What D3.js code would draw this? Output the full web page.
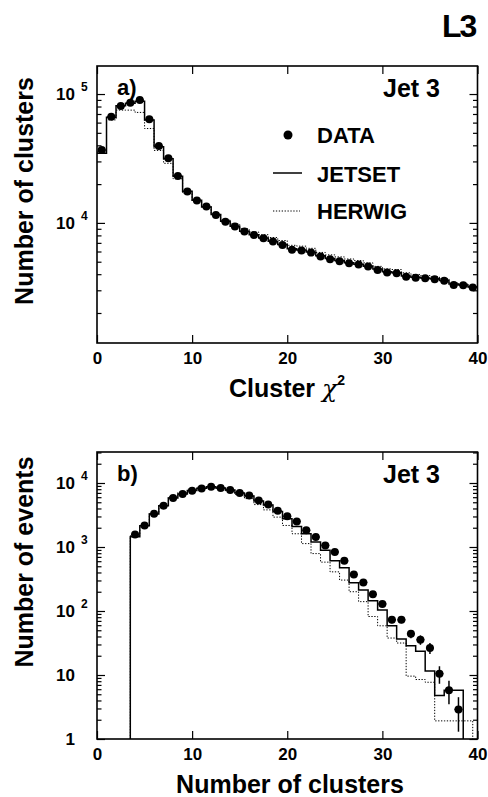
<!DOCTYPE html>
<html><head><meta charset="utf-8">
<script src="https://cdn.jsdelivr.net/npm/d3@7/dist/d3.min.js"></script>
<style>
body{margin:0;background:#fff}
svg{display:block}
text{font-family:"Liberation Sans",Arial,Helvetica,sans-serif;font-weight:bold;fill:#000}
</style>
</head><body>
<svg id="c" width="488" height="797"></svg>
<script>
// ---------- Panel a) : Cluster chi^2 (bin lower edges) ----------
const aBins = [0,1,2,3,4,5,6,7,8,9,10,11,12,13,14,15,16,17,18,19,20,21,22,23,24,25,26,27,28,29,30,31,32,33,34,35,36,37,38,39];
const aData = [36800,66700,80700,85700,89800,63700,39500,31700,23100,17500,14900,13400,11500,10200,9360,8560,8070,7600,7160,6750,6180,6100,5890,5480,5230,5040,4870,4750,4580,4320,4120,4070,3830,3760,3720,3660,3550,3300,3290,3150];
const aJetset = [34700,66000,81000,85000,88000,63000,39000,31500,23000,17600,15000,13300,11600,10300,9400,8600,8100,7650,7200,6800,6300,6150,5950,5550,5300,5100,4900,4780,4600,4380,4180,4100,3870,3790,3740,3680,3580,3350,3300,3180];
const aHerwig = [35500,63000,75000,75000,72000,54000,36500,29000,22000,17000,14700,13400,11700,10500,9800,9000,8500,8100,7700,7300,6700,6600,6350,5900,5650,5450,5250,5100,4900,4600,4400,4350,4100,3980,3900,3820,3700,3420,3350,3200];
const aYTicks = [1e4,1e5];
const aYLabels = [["10","4"],["10","5"]];

// ---------- Panel b) : Number of clusters (bin centres) ----------
const bBins = [4,5,6,7,8,9,10,11,12,13,14,15,16,17,18,19,20,21,22,23,24,25,26,27,28,29,30,31,32,33,34,35,36,37,38,39];
const bData = [1570,2170,3300,4430,5850,6740,7590,8240,8770,8360,7780,7000,6360,5310,4600,3670,3030,2510,1820,1430,1060,836,607,372,280,182,129,72.8,72.8,44,35.6,26.4,10.5,5.8,2.9];
const bErr  = [40,47,57,67,76,82,87,91,94,91,88,84,80,73,68,61,55,50,43,38,33,29,25,19,17,13,11,8.5,8.5,6.6,6,5.1,3.2,2.3,1.6];
const bJetset = [1450,2150,3280,4420,5830,6760,7600,8250,8750,8350,7750,6950,6250,5250,4550,3580,2760,2090,1610,1200,889,607,472,276,213,145,104,58.7,36.5,28.7,23.4,11.5,4.8,5.8,5.8];
const bHerwig = [1500,2150,3350,4600,6100,7100,8000,8600,8800,8300,7550,6600,5700,4600,3800,2930,2170,1610,1130,789,580,409,304,200,140,82,58.7,37.8,31.6,9.6,8.5,7.7,1.92,1.92,1.92,1.92];
const bYTicks = [1,10,100,1000,10000];
const bYLabels = [["1",""],["10",""],["10","2"],["10","3"],["10","4"]];

const xTicks = [0,10,20,30,40];
const legendNames = ["DATA","JETSET","HERWIG"];

const svg = d3.select("#c");
const X0 = 97, X1 = 477.5;

function minorTicks(lo, hi){
  const out=[];
  for(let d=Math.pow(10,Math.floor(Math.log10(lo))); d<hi; d*=10){
    for(let k=2;k<=9;k++){const v=k*d; if(v>lo && v<hi) out.push(v);}
  }
  return out;
}

function panel(o){
  const x = d3.scaleLinear().domain([0,40]).range([X0,X1]);
  const y = d3.scaleLog().domain(o.domain).range([o.bot,o.top]);
  const g = svg.append("g");
  const minors = minorTicks(o.domain[0], o.domain[1]);
  const styleAxis = sel => { sel.select(".domain").remove(); sel.selectAll("line").attr("stroke","#000").attr("stroke-width",1.2); };

  g.append("g").attr("transform",`translate(${X0},0)`)
    .call(d3.axisLeft(y).tickValues(o.yTicks).tickSize(-8).tickFormat(()=>"")).call(styleAxis);
  g.append("g").attr("transform",`translate(${X0},0)`)
    .call(d3.axisLeft(y).tickValues(minors).tickSize(-4.5).tickFormat(()=>"")).call(styleAxis);
  g.append("g").attr("transform",`translate(${X1},0)`)
    .call(d3.axisRight(y).tickValues(o.yTicks).tickSize(-8).tickFormat(()=>"")).call(styleAxis);
  g.append("g").attr("transform",`translate(${X1},0)`)
    .call(d3.axisRight(y).tickValues(minors).tickSize(-4.5).tickFormat(()=>"")).call(styleAxis);

  const xb = g.append("g").attr("transform",`translate(0,${o.bot})`)
    .call(d3.axisBottom(x).tickValues(xTicks).tickSize(-8).tickPadding(9).tickFormat(d3.format("d")));
  xb.call(styleAxis);
  xb.selectAll("text").attr("font-size",17).attr("font-family","Liberation Sans, Arial, sans-serif").attr("font-weight","bold");
  g.append("g").attr("transform",`translate(0,${o.top})`)
    .call(d3.axisTop(x).tickValues(xTicks).tickSize(-8).tickFormat(()=>"")).call(styleAxis);

  // y tick labels
  o.yTicks.forEach((v,i)=>{
    const [base,exp] = o.yLabels[i];
    g.append("text").attr("x",75).attr("y",y(v)+6).attr("text-anchor","end").attr("font-size",17).text(base);
    if(exp) g.append("text").attr("x",81).attr("y",y(v)-3).attr("font-size",12).text(exp);
  });

  // frame
  g.append("rect").attr("x",X0).attr("y",o.top).attr("width",X1-X0).attr("height",o.bot-o.top)
    .attr("fill","none").attr("stroke","#000").attr("stroke-width",1.6);

  const line = d3.line().x(d=>x(d[0])).y(d=>y(d[1])).curve(d3.curveStepAfter);
  g.append("path").attr("d",line(o.herwigPts)).attr("fill","none").attr("stroke","#000")
    .attr("stroke-width",1).attr("stroke-dasharray","1.3,1.6");
  g.append("path").attr("d",line(o.jetsetPts)).attr("fill","none").attr("stroke","#000").attr("stroke-width",1.5);

  // data points
  const pts = g.append("g");
  o.dataPts.forEach(d=>{
    pts.append("line").attr("x1",x(d.c-0.42)).attr("x2",x(d.c+0.42)).attr("y1",y(d.v)).attr("y2",y(d.v))
      .attr("stroke","#000").attr("stroke-width",1.5);
    if(d.e){
      const lo = Math.max(d.v-d.e, o.domain[0]);
      pts.append("line").attr("x1",x(d.c)).attr("x2",x(d.c)).attr("y1",y(lo)).attr("y2",y(d.v+d.e))
        .attr("stroke","#000").attr("stroke-width",1.5);
    }
    pts.append("circle").attr("cx",x(d.c)).attr("cy",y(d.v)).attr("r",4).attr("fill","#000");
  });

  g.append("text").attr("x",117).attr("y",o.top+29).attr("font-size",22).text(o.tag);
  g.append("text").attr("x",383).attr("y",o.top+31).attr("font-size",25).text("Jet 3");
  return {g,x,y};
}

// Panel a
const aJ = aBins.map((e,i)=>[e,aJetset[i]]).concat([[40,aJetset[aJetset.length-1]]]);
const aH = aBins.map((e,i)=>[e,aHerwig[i]]).concat([[40,aHerwig[aHerwig.length-1]]]);
const aD = aBins.map((e,i)=>({c:e+0.5,v:aData[i]}));
panel({domain:[1170,1.65e5],top:66,bot:343,yTicks:aYTicks,yLabels:aYLabels,
  jetsetPts:aJ,herwigPts:aH,dataPts:aD,tag:"a)"});

// Panel b
const bJ = [[bBins[0]-0.5,1]].concat(bJetset.map((v,i)=>[bBins[i]-0.5,v])).concat([[bBins[bJetset.length-1]+0.5,1]]);
const bH = [[bBins[0]-0.5,1]].concat(bHerwig.map((v,i)=>[bBins[i]-0.5,v])).concat([[bBins[bHerwig.length-1]+0.5,1]]);
const bD = bData.map((v,i)=>({c:bBins[i],v:v,e:bErr[i]}));
panel({domain:[1,3.05e4],top:452,bot:739,yTicks:bYTicks,yLabels:bYLabels,
  jetsetPts:bJ,herwigPts:bH,dataPts:bD,tag:"b)"});

// Legend (panel a)
svg.append("circle").attr("cx",288).attr("cy",135).attr("r",4.5).attr("fill","#000");
svg.append("line").attr("x1",273).attr("x2",302).attr("y1",173).attr("y2",173).attr("stroke","#000").attr("stroke-width",1.5);
svg.append("line").attr("x1",273).attr("x2",300).attr("y1",211).attr("y2",211).attr("stroke","#000").attr("stroke-width",1).attr("stroke-dasharray","1.3,1.6");
[143,182,219].forEach((yy,i)=>svg.append("text").attr("x",317).attr("y",yy).attr("font-size",22).text(legendNames[i]));

// Axis titles
const xt = svg.append("text").attr("x",287).attr("y",397).attr("text-anchor","middle").attr("font-size",25);
xt.append("tspan").text("Cluster ");
xt.append("tspan").attr("font-weight","normal").attr("font-family","DejaVu Serif, serif").attr("font-style","italic").text("χ");
xt.append("tspan").attr("font-size",14).attr("dy",-12).text("2");
svg.append("text").attr("x",290).attr("y",793).attr("text-anchor","middle").attr("font-size",25).text("Number of clusters");
svg.append("text").attr("transform","translate(33,191) rotate(-90)").attr("text-anchor","middle").attr("font-size",25).text("Number of clusters");
svg.append("text").attr("transform","translate(33,562) rotate(-90)").attr("text-anchor","middle").attr("font-size",25).text("Number of events");

// L3 logo
svg.append("text").attr("x",442).attr("y",37).attr("font-size",32).attr("letter-spacing",-2).text("L3");
</script>
</body></html>
